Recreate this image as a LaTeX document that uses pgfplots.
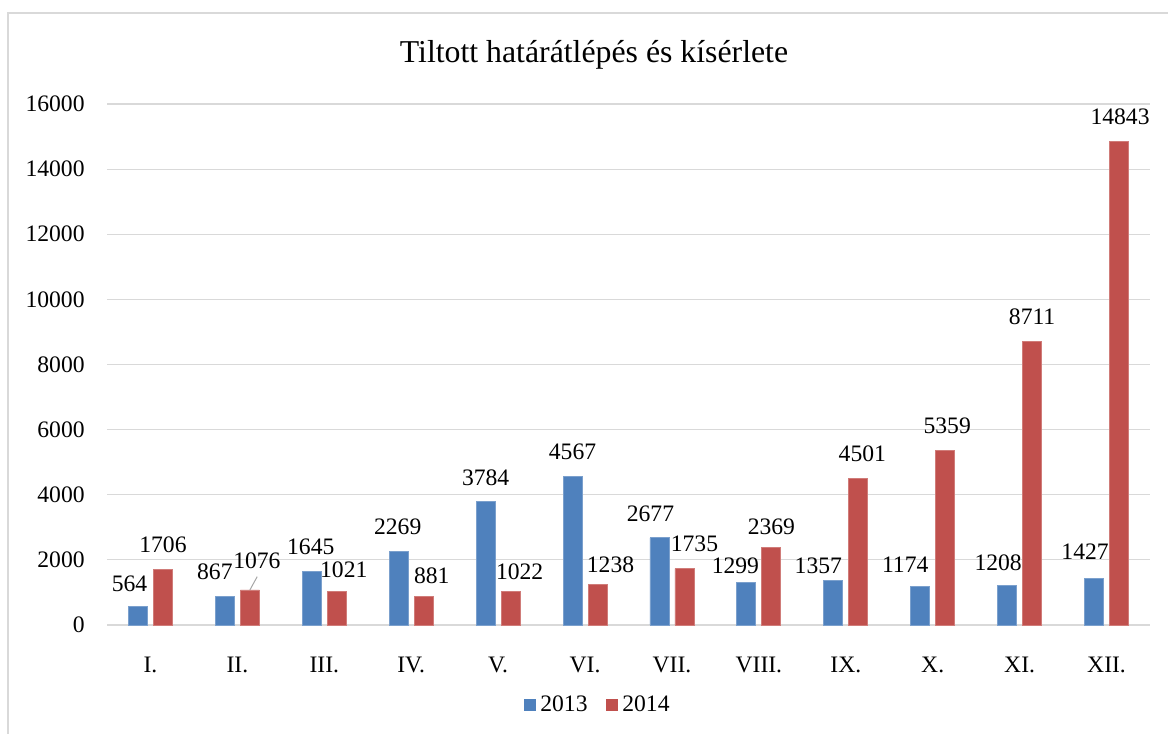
\documentclass[border=0pt]{standalone}
\usepackage{fontspec}
\setmainfont{Liberation Serif}
\usepackage{pgfplots}
\pgfplotsset{compat=1.18}
\usepackage{pgfplotstable}
\definecolor{b13}{HTML}{4F81BD}
\definecolor{r14}{HTML}{C0504D}
\definecolor{gridc}{HTML}{D9D9D9}
\pgfplotstableread{
x y dx dy
0 564 -8.5 2
1 867 -10 0
2 1645 -1 0
3 2269 -1 0
4 3784 0 0
5 4567 0 0
6 2677 -9 0
7 1299 -11 8
8 1357 -15 9
9 1174 -15 2
10 1208 -9 2
11 1427 -9 -2
}\tA
\pgfplotstableread{
x y dx dy
0 1706 0 0
1 1076 7 -5
2 1021 7 3
3 881 8 4
4 1022 9 5
5 1238 13 5
6 1735 10 0
7 2369 0 3
8 4501 4 0
9 5359 2 0
10 8711 0 0
11 14843 1 0
}\tB
\pgfplotsset{
  lbl/.style={
    forget plot,
    nodes near coords={\pgfmathprintnumber[fixed,precision=0]{\pgfplotspointmeta}},
    point meta=explicit,
    visualization depends on={\thisrow{dx} \as \dx},
    visualization depends on={\thisrow{dy} \as \dy},
    every node near coord/.append style={anchor=center, inner sep=0pt,
      xshift={(\dx)*0.5bp}, yshift={12.25bp-(\dy)*0.5bp}, black,
      font=\fontsize{11.8bp}{14bp}\selectfont},
  }
}
\begin{document}
\begin{tikzpicture}
\useasboundingbox (0,0) rectangle (584bp,367bp);
\draw[gridc, line width=0.75bp] (4bp,-2bp) -- (4bp,360.5bp) -- (586bp,360.5bp);
\begin{axis}[
  at={(53.5bp,54.5bp)}, anchor=south west,
  scale only axis, width=521.5bp, height=260.5bp,
  xmin=-0.5, xmax=11.5, ymin=0, ymax=16000,
  ytick={0,2000,...,16000},
  xtick={0,...,11},
  xticklabels={I.,II.,III.,IV.,V.,VI.,VII.,VIII.,IX.,X.,XI.,XII.},
  ymajorgrids, grid style={gridc, line width=0.6bp},
  axis line style={draw=none}, tick style={draw=none},
  scaled y ticks=false,
  font=\fontsize{11.8bp}{14bp}\selectfont,
  /pgf/number format/assume math mode=true,
  /pgf/number format/1000 sep={},
  yticklabel style={inner sep=0pt, anchor=east, xshift=-11bp},
  xticklabel style={inner sep=0pt, anchor=north, yshift=-11.5bp},
  ybar, bar width=9.5bp,
  clip=false,
  legend style={at={(0.4717,-0.1536)}, anchor=center, draw=none, fill=none,
    legend columns=2, font=\fontsize{11.8bp}{14bp}\selectfont,
    nodes={inner sep=2.2bp},
    /tikz/every even column/.append style={column sep=7bp}},
  legend image code/.code={\fill[#1,draw=none] (0bp,-3bp) rectangle (6bp,3bp);},
]
\addplot[fill=b13, draw=b13!75!white, line width=0.4bp, bar shift=-6.25bp, lbl] table[x=x,y=y,meta=y]{\tA};
\addplot[fill=r14, draw=r14!75!white, line width=0.4bp, bar shift=6.25bp, lbl] table[x=x,y=y,meta=y]{\tB};
\addlegendimage{fill=b13}
\addlegendentry{2013}
\addlegendimage{fill=r14}
\addlegendentry{2014}
\draw[color=gray!70, line width=0.5bp] (axis cs:1.144,1076) -- (axis cs:1.228,1484);
\end{axis}
\node[anchor=base, font=\fontsize{15.9bp}{19bp}\selectfont] at (297bp,335.5bp) {Tiltott határátlépés és kísérlete};
\end{tikzpicture}
\end{document}
